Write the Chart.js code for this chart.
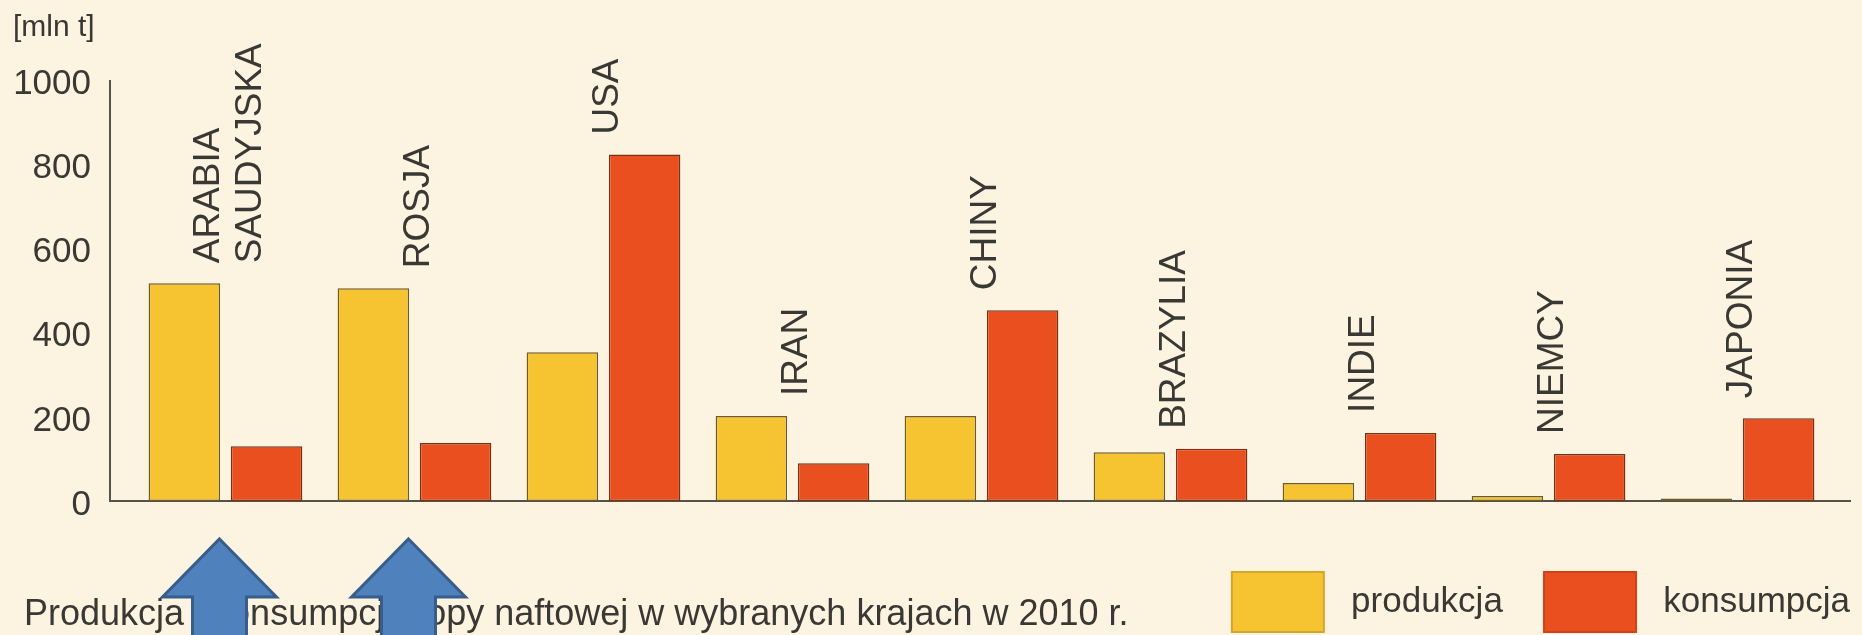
<!DOCTYPE html>
<html lang="pl">
<head>
<meta charset="utf-8">
<title>Produkcja i konsumpcja ropy naftowej w 2010 r.</title>
<script src="https://cdn.jsdelivr.net/npm/chart.js@4.4.1/dist/chart.umd.min.js"></script>
<style>
  html, body { margin: 0; padding: 0; background: #fcf4e0; }
  #wrap { position: relative; width: 1862px; height: 635px; }
</style>
</head>
<body>
<div id="wrap"><canvas id="chart"></canvas></div>
<script>
// Chart data
const categories = [['ARABIA', 'SAUDYJSKA'], 'ROSJA', 'USA', 'IRAN', 'CHINY', 'BRAZYLIA', 'INDIE', 'NIEMCY', 'JAPONIA'];
const production = [518, 506, 354, 202, 202, 116, 43, 12, 6];
const consumption = [130, 138, 824, 90, 454, 124, 162, 112, 197];
const yTicks = [0, 200, 400, 600, 800, 1000];
const seriesNames = ['produkcja', 'konsumpcja'];
const unitLabel = '[mln t]';
const caption = 'Produkcja i konsumpcja ropy naftowej w wybranych krajach w 2010 r.';
const arrowTargets = [0, 1]; // the two blue arrows point at these countries

const FONT = '"Liberation Sans", Arial, Helvetica, sans-serif';
const TEXT = '#3a3834';
const AXIS = '#55524a';

Chart.defaults.font.family = FONT;
Chart.defaults.color = TEXT;

// vertical country names above each pair of bars
const countryLabels = {
    id: 'countryLabels',
    afterDatasetsDraw(chart) {
        const { ctx, scales: { x, y } } = chart;
        ctx.save();
        ctx.fillStyle = TEXT;
        ctx.font = '37px ' + FONT;
        ctx.textAlign = 'left';
        ctx.textBaseline = 'middle';
        categories.forEach((cat, i) => {
            const lines = Array.isArray(cat) ? cat : [cat];
            const px = x.getPixelForValue(i) + 4;
            const py = y.getPixelForValue(Math.max(production[i], consumption[i])) - 20;
            ctx.save();
            ctx.translate(px, py);
            ctx.rotate(-Math.PI / 2);
            lines.forEach((line, j) => {
                ctx.fillText(line, 0, (j - (lines.length - 1) / 2) * 42);
            });
            ctx.restore();
        });
        ctx.restore();
    }
};

// caption under the chart and the two blue arrows drawn over it
const annotations = {
    id: 'annotations',
    afterDraw(chart) {
        const { ctx, scales: { x } } = chart;
        ctx.save();
        ctx.fillStyle = TEXT;
        ctx.font = '36px ' + FONT;
        ctx.textAlign = 'left';
        ctx.textBaseline = 'alphabetic';
        ctx.fillText(caption, 24, 625);

        arrowTargets.forEach(i => {
            const cx = x.getPixelForValue(i) - 6;
            ctx.beginPath();
            ctx.moveTo(cx, 539);
            ctx.lineTo(cx + 57, 597);
            ctx.lineTo(cx + 27, 597);
            ctx.lineTo(cx + 27, 645);
            ctx.lineTo(cx - 27, 645);
            ctx.lineTo(cx - 27, 597);
            ctx.lineTo(cx - 57, 597);
            ctx.closePath();
            ctx.fillStyle = '#4f81bd';
            ctx.fill();
            ctx.lineWidth = 3;
            ctx.strokeStyle = '#385d8a';
            ctx.stroke();
        });
        ctx.restore();
    }
};

const ctx = document.getElementById('chart').getContext('2d');

new Chart(ctx, {
    type: 'bar',
    data: {
        datasets: [
            {
                label: seriesNames[0],
                data: production.map((v, i) => ({ x: i, y: v })),
                backgroundColor: '#f6c430',
                borderColor: '#6e5b2c',
                borderWidth: 1.5,
                borderSkipped: false
            },
            {
                label: seriesNames[1],
                data: consumption.map((v, i) => ({ x: i, y: v })),
                backgroundColor: '#ea4f1f',
                borderColor: '#7a3216',
                borderWidth: 1.5,
                borderSkipped: false
            }
        ]
    },
    options: {
        responsive: true,
        maintainAspectRatio: false,
        animation: false,
        categoryPercentage: 0.87,
        barPercentage: 0.87,
        layout: { padding: { left: 13, right: 0, top: 0, bottom: -7 } },
        scales: {
            x: {
                type: 'linear',
                min: -0.611,
                max: 8.595,
                offset: false,
                afterBuildTicks(scale) {
                    scale.ticks = categories.map((c, i) => ({ value: i }));
                },
                grid: { display: false, drawTicks: false },
                ticks: { display: false },
                border: { display: true, color: AXIS, width: 2 },
                afterFit(scale) { scale.height = 59; }
            },
            y: {
                min: 0,
                max: 1000,
                afterBuildTicks(scale) {
                    scale.ticks = yTicks.map(v => ({ value: v }));
                },
                grid: { display: false, drawTicks: false },
                border: { display: true, color: AXIS, width: 2 },
                ticks: {
                    padding: 19,
                    labelOffset: 4,
                    color: TEXT,
                    font: { size: 35 },
                    callback: v => String(v)
                },
                afterFit(scale) { scale.width = 97; }
            },
            yRight: {
                position: 'right',
                grid: { display: false, drawTicks: false },
                border: { display: false },
                ticks: { display: false },
                afterFit(scale) { scale.width = 12; }
            }
        },
        plugins: {
            title: {
                display: true,
                text: unitLabel,
                align: 'start',
                color: TEXT,
                font: { size: 30, weight: 'normal' },
                padding: { top: 10, bottom: 34.6 }
            },
            legend: {
                position: 'bottom',
                align: 'end',
                labels: {
                    boxWidth: 92,
                    boxHeight: 60,
                    padding: 12,
                    color: TEXT,
                    font: { size: 35 },
                    generateLabels(chart) {
                        const items = Chart.defaults.plugins.legend.labels.generateLabels(chart);
                        const strokes = ['#d6a62c', '#cf4219'];
                        items.forEach((item, i) => {
                            item.text = ' ' + item.text + (i < items.length - 1 ? '   ' : '');
                            item.strokeStyle = strokes[i];
                            item.lineWidth = 2;
                        });
                        return items;
                    }
                }
            },
            tooltip: { enabled: false }
        }
    },
    plugins: [countryLabels, annotations]
});
</script>
</body>
</html>
